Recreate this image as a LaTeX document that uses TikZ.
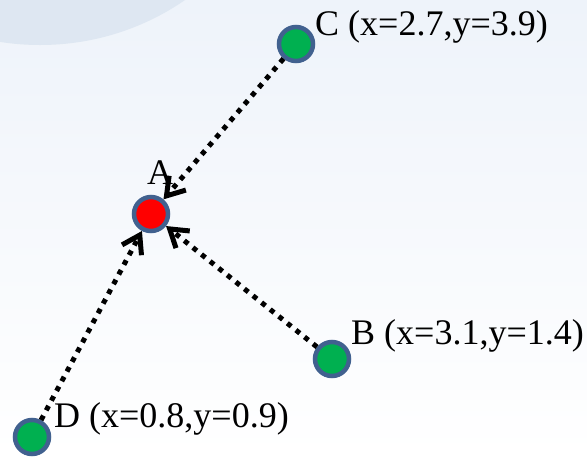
\documentclass[tikz,border=0pt]{standalone}
\usepackage{fontspec}
\setmainfont{Liberation Serif}
\usetikzlibrary{arrows.meta}
\definecolor{nodeborder}{HTML}{41618F}
\definecolor{nodegreen}{HTML}{00B050}
\definecolor{bgtop}{HTML}{EEF3FA}
\definecolor{bgbottom}{HTML}{FFFFFF}
\definecolor{swoosh}{HTML}{DEE7F2}
\tikzset{
  pt/.style={circle, draw=nodeborder, line width=4.5pt, minimum size=34pt, inner sep=0pt, fill=nodegreen},
  lbl/.style={anchor=base west, inner sep=0pt, font=\fontsize{36}{42}\selectfont},
  link/.style={line width=5pt, dash pattern=on 5pt off 6pt, -{Straight Barb[length=17pt,width=22pt,line width=5pt]}}
}
\begin{document}
\begin{tikzpicture}[x=1pt,y=-1pt]
  \useasboundingbox (0,0) rectangle (587,456);
  \shade[top color=bgtop, bottom color=bgbottom] (0,0) rectangle (587,456);
  \begin{scope}
    \clip (0,0) rectangle (587,456);
    \fill[swoosh] (40,-200) ellipse [x radius=251, y radius=245];
  \end{scope}
  \node[pt] (C) at (296,44) {};
  \node[pt, fill=red] (A) at (151,214) {};
  \node[pt] (B) at (332,359) {};
  \node[pt] (D) at (32,437) {};
  \node[lbl] (Cl) at (315,35) {C (x=2.7,y=3.9)};
  \node[lbl] (Bl) at (351,344) {B (x=3.1,y=1.4)};
  \node[lbl] (Dl) at (54,427) {D (x=0.8,y=0.9)};
  \node[anchor=base, inner sep=0pt, font=\fontsize{36}{42}\selectfont] (Al) at (160,184) {A};
  \draw[link] (C) -- (A);
  \draw[link] (B) -- (A);
  \draw[link] (D) -- (A);
\end{tikzpicture}
\end{document}
